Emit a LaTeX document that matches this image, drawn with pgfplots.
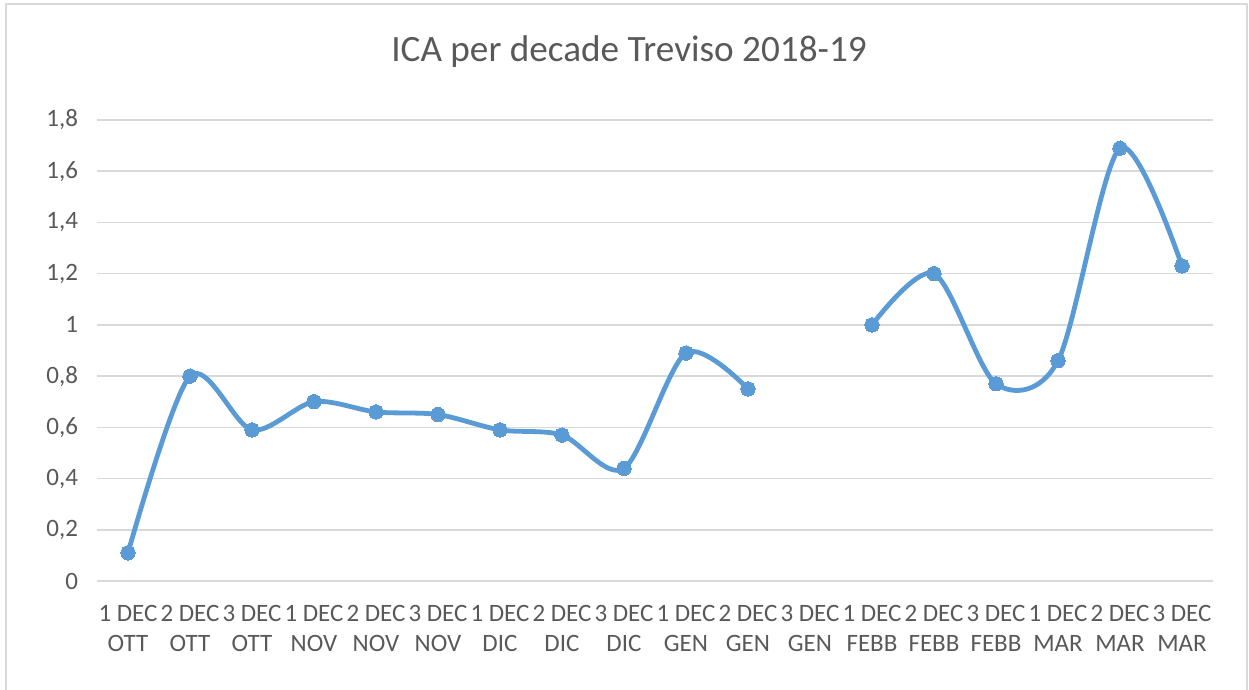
\documentclass[border=0pt]{standalone}
\usepackage{pgfplots}
\pgfplotsset{compat=1.18}
\usepackage{fontspec}
\setmainfont{Carlito}
\definecolor{txt}{HTML}{595959}
\definecolor{grd}{HTML}{D9D9D9}
\definecolor{ser}{HTML}{5B9BD5}
\pgfplotstableread{
x y
0 0.11
1 0.80
2 0.59
3 0.70
4 0.66
5 0.65
6 0.59
7 0.57
8 0.44
9 0.89
10 0.75
11 nan
12 1.00
13 1.20
14 0.77
15 0.86
16 1.69
17 1.23
}\ica
\begin{document}
\begin{tikzpicture}
\useasboundingbox (0pt,0pt) rectangle (624.5pt,-345pt);
\draw[grd, line width=1.2pt] (3pt,-2pt) rectangle (623.5pt,-370pt);
\node[text=txt, font=\fontsize{18.6}{22}\selectfont] at (314.5pt,-26pt) {ICA per decade Treviso 2018-19};
\begin{axis}[
  at={(48.5pt,-290.5pt)}, anchor=south west,
  scale only axis, width=558pt, height=230.5pt,
  xmin=-0.5, xmax=17.5, ymin=0, ymax=1.8,
  unbounded coords=jump,
  axis line style={draw=none},
  major tick length=0pt,
  ymajorgrids, grid style={grd, line width=0.8pt},
  ytick={0,0.2,0.4,0.6,0.8,1,1.2,1.4,1.6,1.8},
  yticklabel style={/pgf/number format/fixed, /pgf/number format/precision=1, /pgf/number format/use comma, /pgf/number format/assume math mode=true,
    text=txt, font=\fontsize{12.5}{15}\selectfont, xshift=-6pt},
  xtick={0,...,17},
  xticklabels={{1 DEC\\OTT},{2 DEC\\OTT},{3 DEC\\OTT},{1 DEC\\NOV},{2 DEC\\NOV},{3 DEC\\NOV},{1 DEC\\DIC},{2 DEC\\DIC},{3 DEC\\DIC},{1 DEC\\GEN},{2 DEC\\GEN},{3 DEC\\GEN},{1 DEC\\FEBB},{2 DEC\\FEBB},{3 DEC\\FEBB},{1 DEC\\MAR},{2 DEC\\MAR},{3 DEC\\MAR}},
  xticklabel style={align=center, text=txt, font=\fontsize{12.5}{15}\selectfont, yshift=-8.5pt},
  clip=false,
]
\addplot[ser, line width=2.4pt, smooth, mark=*, mark size=3.6pt, mark options={fill=ser, draw=ser, line width=0pt}] table[x=x,y=y] {\ica};
\end{axis}
\end{tikzpicture}
\end{document}
